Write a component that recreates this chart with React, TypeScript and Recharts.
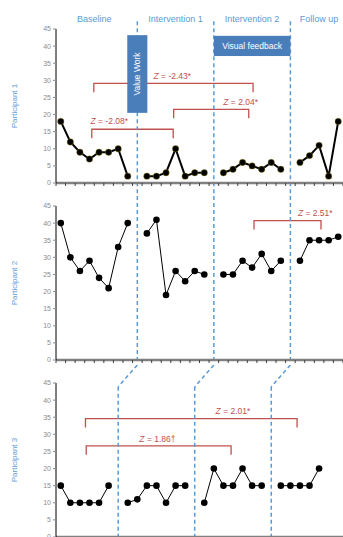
import React from 'react';
import { LineChart, Line, XAxis, YAxis, ReferenceLine, ReferenceArea, ReferenceDot } from 'recharts';

// phase names shown above the first panel
const phaseNames = ['Baseline', 'Intervention 1', 'Intervention 2', 'Follow up'];

// participant 1
const p1Baseline = [18, 12, 9, 7, 9, 9, 10, 2];
const p1Int1 = [2, 2, 3, 10, 2, 3, 3];
const p1Int2 = [3, 4, 6, 5, 4, 6, 4];
const p1Follow = [6, 8, 11, 2, 18];

// participant 2
const p2Baseline = [40, 30, 26, 29, 24, 21, 33, 40];
const p2Int1 = [37, 41, 19, 26, 23, 26, 25];
const p2Int2 = [25, 25, 29, 27, 31, 26, 29];
const p2Follow = [29, 35, 35, 35, 36];

// participant 3
const p3Baseline = [15, 10, 10, 10, 10, 15];
const p3Int1 = [10, 11, 15, 15, 10, 15, 15];
const p3Int2 = [10, 20, 15, 15, 20, 15, 15];
const p3Follow = [15, 15, 15, 15, 20];

const yTicks = [0, 5, 10, 15, 20, 25, 30, 35, 40, 45];

// Wilcoxon comparisons: x1/x2 = session index, y = bracket height
const p1Tests = [
  { x1: 3.45, x2: 20.1, y: 29.1, z: ' = -2.43*', lx: 11.66, ly: 31.3 },
  { x1: 11.8, x2: 19.65, y: 21.5, z: ' = 2.04*', lx: 18.8, ly: 23.8 },
  { x1: 3.24, x2: 11.75, y: 15.7, z: ' = -2.08*', lx: 5.07, ly: 18.2 },
];
const p2Tests = [{ x1: 20.2, x2: 27.2, y: 40.7, z: ' = 2.51*', lx: 26.6, ly: 42.9 }];
const p3Tests = [
  { x1: 2.58, x2: 24.7, y: 34.6, z: ' = 2.01*', lx: 18.0, ly: 36.8 },
  { x1: 2.66, x2: 17.8, y: 26.6, z: ' = 1.86\u2020', lx: 10.1, ly: 28.6 },
];

const PHASE = '#5b9bd5';
const BOX = '#4a7ebb';
const RED = '#c0504d';
const GREY = '#8c8c8c';
const W = 343;
const UNIT = 154 / 45;

function buildRows(phases: number[][]) {
  const rows: { i: number; v: number | null }[] = [];
  const gaps: number[] = [];
  const centers: number[] = [];
  let i = 0;
  phases.forEach((ph, k) => {
    if (k > 0) {
      gaps.push(i);
      rows.push({ i, v: null });
      i++;
    }
    centers.push(i + (ph.length - 1) / 2);
    ph.forEach((v) => {
      rows.push({ i, v });
      i++;
    });
  });
  return { rows, gaps, centers };
}

const s1 = buildRows([p1Baseline, p1Int1, p1Int2, p1Follow]);
const s2 = buildRows([p2Baseline, p2Int1, p2Int2, p2Follow]);
const s3 = buildRows([p3Baseline, p3Int1, p3Int2, p3Follow]);

const xTicks = Array.from({ length: 31 }, (_, k) => k - 0.5);

const bracketShape = (p: any) => (
  <path
    d={`M${p.x},${p.y + p.height}V${p.y}H${p.x + p.width}V${p.y + p.height}`}
    fill="none"
    stroke={RED}
    strokeWidth={1.3}
  />
);

const zText = (z: string) => (p: any) => (
  <text x={p.cx} y={p.cy} textAnchor="middle" dominantBaseline="central" fontSize={8.5} fill={RED}>
    <tspan fontStyle="italic">Z</tspan>
    {z}
  </text>
);

const participantLabel = (text: string) => (p: any) => {
  const vb = p.viewBox || {};
  const cx = vb.x + 14;
  const cy = vb.y + vb.height / 2;
  return (
    <text
      x={cx}
      y={cy}
      transform={`rotate(-90 ${cx} ${cy})`}
      textAnchor="middle"
      dominantBaseline="central"
      fontSize={8}
      fill={PHASE}
    >
      {text}
    </text>
  );
};

function tests(list: typeof p1Tests) {
  return list.flatMap((t, k) => [
    <ReferenceArea
      key={`b${k}`}
      x1={t.x1}
      x2={t.x2}
      y1={t.y - 2.6}
      y2={t.y}
      ifOverflow="visible"
      shape={bracketShape}
    />,
    <ReferenceDot key={`l${k}`} x={t.lx} y={t.ly} r={0} ifOverflow="visible" shape={zText(t.z)} />,
  ]);
}

function axes(text: string, xHeight: number) {
  return [
    <XAxis
      key="x"
      type="number"
      dataKey="i"
      domain={[-0.5, 29.5]}
      ticks={xTicks}
      interval={0}
      height={xHeight}
      tickSize={3}
      tickFormatter={() => ''}
      axisLine={{ stroke: '#808080', strokeWidth: 2.5 }}
      tickLine={{ stroke: '#404040' }}
    />,
    <YAxis
      key="y"
      domain={[0, 45]}
      ticks={yTicks}
      interval={0}
      width={56}
      tickSize={3}
      tickMargin={2}
      tick={{ fontSize: 7, fill: GREY }}
      axisLine={{ stroke: '#000' }}
      tickLine={{ stroke: GREY }}
      label={{ content: participantLabel(text) }}
    />,
  ];
}

const phaseStroke = { stroke: PHASE, strokeWidth: 1.5, strokeDasharray: '4 3' };

export default function App() {
  return (
    <div
      style={{
        position: 'absolute',
        left: 0,
        top: 0,
        width: W,
        height: 537,
        overflow: 'hidden',
        background: '#fff',
        fontFamily: '"Liberation Sans", Arial, sans-serif',
      }}
    >
      {/* Participant 1 */}
      <div style={{ position: 'absolute', left: 0, top: 0 }}>
        <LineChart width={W} height={194} data={s1.rows} margin={{ top: 29, right: 0, bottom: 0, left: 0 }}>
          {axes('Participant 1', 11)}
          {s1.gaps.map((g) => (
            <ReferenceLine
              key={`g${g}`}
              segment={[{ x: g, y: 47.3 }, { x: g, y: -5 }]}
              ifOverflow="visible"
              {...phaseStroke}
            />
          ))}
          {tests(p1Tests)}
          {s1.centers.map((c, k) => (
            <ReferenceDot
              key={`p${k}`}
              x={c}
              y={47.9}
              r={0}
              ifOverflow="visible"
              shape={(p: any) => (
                <text x={p.cx} y={p.cy} textAnchor="middle" dominantBaseline="central" fontSize={9} fill={PHASE}>
                  {phaseNames[k]}
                </text>
              )}
            />
          ))}
          <ReferenceArea
            x1={s1.gaps[0] - 1.05}
            x2={s1.gaps[0] + 1.05}
            y1={20.5}
            y2={43.2}
            ifOverflow="visible"
            zIndex={1000}
            shape={(p: any) => {
              const cx = p.x + p.width / 2;
              const cy = p.y + p.height / 2;
              return (
                <g>
                  <rect x={p.x} y={p.y} width={p.width} height={p.height} fill={BOX} />
                  <text
                    x={cx}
                    y={cy}
                    transform={`rotate(-90 ${cx} ${cy})`}
                    textAnchor="middle"
                    dominantBaseline="central"
                    fontSize={8.5}
                    fill="#fff"
                  >
                    Value Work
                  </text>
                </g>
              );
            }}
          />
          <ReferenceArea
            x1={s1.gaps[1]}
            x2={s1.gaps[2]}
            y1={37.1}
            y2={43.0}
            ifOverflow="visible"
            zIndex={1000}
            shape={(p: any) => (
              <g>
                <rect x={p.x} y={p.y} width={p.width} height={p.height} fill={BOX} />
                <text
                  x={p.x + p.width / 2}
                  y={p.y + p.height / 2}
                  textAnchor="middle"
                  dominantBaseline="central"
                  fontSize={8.5}
                  fill="#fff"
                >
                  Visual feedback
                </text>
              </g>
            )}
          />
          <Line
            dataKey="v"
            stroke="#000"
            strokeWidth={2}
            dot={{ r: 3.2, fill: '#000', stroke: '#a08a10', strokeWidth: 0.4 }}
            isAnimationActive={false}
          />
        </LineChart>
      </div>

      {/* Participant 2 */}
      <div style={{ position: 'absolute', left: 0, top: 194 }}>
        <LineChart width={W} height={171} data={s2.rows} margin={{ top: 12, right: 0, bottom: 0, left: 0 }}>
          {axes('Participant 2', 5)}
          {s2.gaps.map((g) => (
            <ReferenceLine
              key={`g${g}`}
              segment={[{ x: g, y: 50 }, { x: g, y: -0.9 }]}
              ifOverflow="visible"
              {...phaseStroke}
            />
          ))}
          {tests(p2Tests)}
          <Line
            dataKey="v"
            stroke="#000"
            strokeWidth={1}
            dot={{ r: 3.3, fill: '#000', stroke: '#000', strokeWidth: 0 }}
            isAnimationActive={false}
          />
        </LineChart>
      </div>

      {/* Participant 3 */}
      <div style={{ position: 'absolute', left: 0, top: 365 }}>
        <LineChart width={W} height={180} data={s3.rows} margin={{ top: 18, right: 0, bottom: 0, left: 0 }}>
          {axes('Participant 3', 8)}
          {s3.gaps.map((g, k) => (
            <ReferenceLine
              key={`d${g}`}
              segment={[{ x: s1.gaps[k], y: 45 + 18 / UNIT }, { x: g, y: 43.9 }]}
              ifOverflow="visible"
              {...phaseStroke}
            />
          ))}
          {s3.gaps.map((g) => (
            <ReferenceLine
              key={`g${g}`}
              segment={[{ x: g, y: 43.9 }, { x: g, y: -3 }]}
              ifOverflow="visible"
              {...phaseStroke}
            />
          ))}
          {tests(p3Tests)}
          <Line
            dataKey="v"
            stroke="#000"
            strokeWidth={1}
            dot={{ r: 3.3, fill: '#000', stroke: '#000', strokeWidth: 0 }}
            isAnimationActive={false}
          />
        </LineChart>
      </div>
    </div>
  );
}
